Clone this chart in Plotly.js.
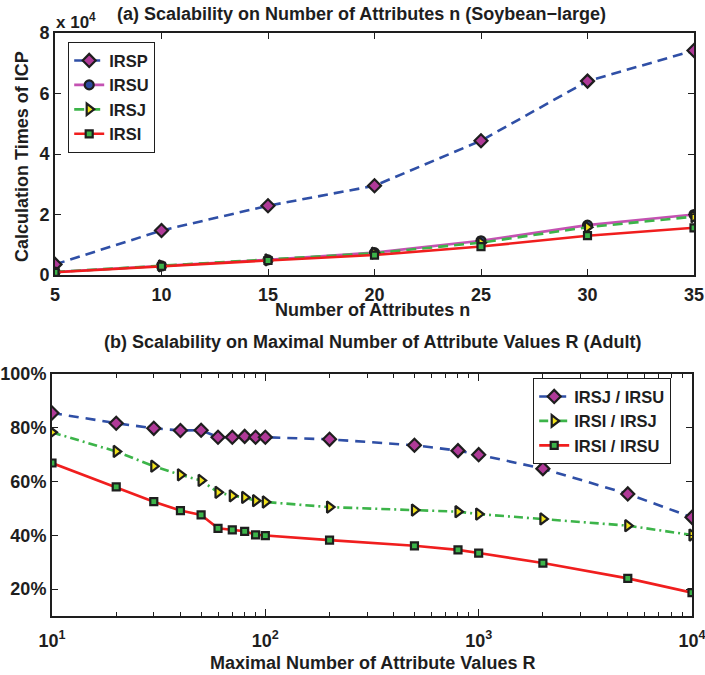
<!DOCTYPE html>
<html>
<head>
<meta charset="utf-8">
<script src="https://cdn.plot.ly/plotly-3.0.1.min.js"></script>
<style>
  html, body { margin: 0; padding: 0; background: #fff; }
  #chart { width: 705px; height: 675px; }
</style>
</head>
<body>
<div id="chart"></div>
<script>
// (a) Soybean-large: calculation times of ICP vs number of attributes n
const attrN = [5, 10, 15, 20, 25, 30, 35];
const irsp = [3500, 14700, 22900, 29500, 44400, 64100, 74200];
const irsu = [1000, 3000, 5000, 7400, 11300, 16500, 20000];
const irsj = [1000, 3000, 5000, 7200, 10700, 15800, 19300];
const irsi = [900, 2900, 4800, 6600, 9400, 13000, 15600];

// (b) Adult: ratios (%) vs maximal number of attribute values R
const valuesR = [10, 20, 30, 40, 50, 60, 70, 80, 90, 100, 200, 500, 800, 1000, 2000, 5000, 10000];
const ratioJU = [85.5, 81.7, 79.8, 79.0, 79.1, 76.5, 76.5, 76.8, 76.5, 76.5, 75.7, 73.5, 71.5, 70.0, 64.8, 55.4, 46.7];
const ratioIJ = [78.3, 71.2, 65.7, 62.5, 60.4, 56.0, 54.7, 54.1, 52.9, 52.4, 50.5, 49.4, 48.8, 47.9, 46.1, 43.6, 40.1];
const ratioIU = [66.9, 58.0, 52.5, 49.2, 47.6, 42.6, 42.0, 41.5, 40.2, 39.9, 38.2, 36.1, 34.6, 33.4, 29.7, 24.0, 18.7];

const topYTicks = [0, 20000, 40000, 60000, 80000];
const topYText = ['0', '2', '4', '6', '8'];
const botXTicks = [10, 100, 1000, 10000];
const botXText = ['10<sup>1</sup>', '10<sup>2</sup>', '10<sup>3</sup>', '10<sup>4</sup>'];
const botXMinor = [20, 30, 40, 50, 60, 70, 80, 90, 200, 300, 400, 500, 600, 700, 800, 900,
                   2000, 3000, 4000, 5000, 6000, 7000, 8000, 9000];
const botYTicks = [20, 40, 60, 80, 100];
const botYText = ['20%', '40%', '60%', '80%', '100%'];

const W = 705, H = 675;
const px = x => x / W;
const py = y => 1 - y / H;

const FONT = 'Liberation Sans, Arial, Helvetica, sans-serif';
const INK = '#1e1e1e';
const BLUE = '#2f4fa6';
const MAGENTA = '#c452b2';
const GREEN = '#3cb449';
const RED = '#f01e1e';

function mk(symbol, fill, size) {
  return { symbol: symbol, size: size, color: fill, line: { color: INK, width: 2.2 } };
}

const traces = [
  { x: attrN, y: irsp, name: 'IRSP', xaxis: 'x', yaxis: 'y', legend: 'legend',
    mode: 'lines+markers', line: { color: BLUE, width: 2.6, dash: '10px,6px' },
    marker: mk('diamond', '#b03a98', 10) },
  { x: attrN, y: irsu, name: 'IRSU', xaxis: 'x', yaxis: 'y', legend: 'legend',
    mode: 'lines+markers', line: { color: MAGENTA, width: 2.6 },
    marker: mk('circle', '#2c4aa0', 9) },
  { x: attrN, y: irsj, name: 'IRSJ', xaxis: 'x', yaxis: 'y', legend: 'legend',
    mode: 'lines+markers', line: { color: GREEN, width: 2.6, dash: '10px,6px' },
    marker: mk('triangle-right', '#f2e31c', 10) },
  { x: attrN, y: irsi, name: 'IRSI', xaxis: 'x', yaxis: 'y', legend: 'legend',
    mode: 'lines+markers', line: { color: RED, width: 2.6 },
    marker: mk('square', GREEN, 7) },

  { x: valuesR, y: ratioJU, name: 'IRSJ / IRSU', xaxis: 'x2', yaxis: 'y2', legend: 'legend2',
    mode: 'lines+markers', line: { color: BLUE, width: 2.6, dash: '10px,7px' },
    marker: mk('diamond', '#b03a98', 10) },
  { x: valuesR, y: ratioIJ, name: 'IRSI / IRSJ', xaxis: 'x2', yaxis: 'y2', legend: 'legend2',
    mode: 'lines+markers', line: { color: GREEN, width: 2.6, dash: '9px,4px,2px,4px' },
    marker: mk('triangle-right', '#f2e31c', 10) },
  { x: valuesR, y: ratioIU, name: 'IRSI / IRSU', xaxis: 'x2', yaxis: 'y2', legend: 'legend2',
    mode: 'lines+markers', line: { color: RED, width: 2.6 },
    marker: mk('square', GREEN, 7) }
];

const tickFont = { family: FONT, size: 18, color: INK, weight: 'bold' };

const axisBase = {
  showline: true, linecolor: INK, linewidth: 2, mirror: 'ticks',
  ticks: 'inside', ticklen: 6, tickwidth: 1, tickcolor: INK,
  showgrid: false, zeroline: false, tickfont: tickFont, fixedrange: true,
  ticklabeloverflow: 'allow'
};

const legendBase = {
  bgcolor: '#ffffff', bordercolor: INK, borderwidth: 1.2,
  font: { family: FONT, size: 16.5, color: INK, weight: 'bold' },
  xanchor: 'left', yanchor: 'top', tracegroupgap: 0
};

const layout = {
  width: W, height: H,
  margin: { l: 0, r: 0, t: 0, b: 0 },
  paper_bgcolor: '#ffffff', plot_bgcolor: '#ffffff',
  font: { family: FONT, size: 18, color: INK, weight: 'bold' },
  showlegend: true,
  xaxis: Object.assign({}, axisBase, {
    domain: [px(55), px(694)], anchor: 'y', range: [5, 35],
    tickmode: 'array', tickvals: attrN, ticklabelstandoff: 2
  }),
  yaxis: Object.assign({}, axisBase, {
    domain: [py(275), py(33)], anchor: 'x', range: [0, 80000],
    tickmode: 'array', tickvals: topYTicks, ticktext: topYText
  }),
  xaxis2: Object.assign({}, axisBase, {
    domain: [px(52), px(692)], anchor: 'y2', type: 'log', range: [1, 4],
    tickmode: 'array', tickvals: botXTicks, ticktext: botXText, ticklen: 7,
    ticklabelstandoff: 7,
    minor: { ticks: 'inside', ticklen: 4, tickwidth: 1, tickcolor: INK,
             tickmode: 'array', tickvals: botXMinor, showgrid: false }
  }),
  yaxis2: Object.assign({}, axisBase, {
    domain: [py(616), py(374)], anchor: 'x2', range: [10, 100],
    tickmode: 'array', tickvals: botYTicks, ticktext: botYText
  }),
  legend: Object.assign({}, legendBase, { x: px(68), y: py(42) }),
  legend2: Object.assign({}, legendBase, { x: px(533), y: py(378) }),
  annotations: [
    { text: '(a) Scalability on Number of Attributes n (Soybean\u2212large)',
      xref: 'paper', yref: 'paper', x: px(361), y: py(14), xanchor: 'center', yanchor: 'middle',
      showarrow: false, font: { family: FONT, size: 18, color: INK, weight: 'bold' } },
    { text: 'x 10<sup>4</sup>',
      xref: 'paper', yref: 'paper', x: px(54), y: py(21), xanchor: 'left', yanchor: 'middle',
      showarrow: false, font: { family: FONT, size: 17, color: INK, weight: 'bold' } },
    { text: 'Calculation Times of ICP',
      xref: 'paper', yref: 'paper', x: px(22), y: py(157), xanchor: 'center', yanchor: 'middle',
      textangle: -90, showarrow: false, font: { family: FONT, size: 18, color: INK, weight: 'bold' } },
    { text: 'Number of Attributes n',
      xref: 'paper', yref: 'paper', x: px(372), y: py(310), xanchor: 'center', yanchor: 'middle',
      showarrow: false, font: { family: FONT, size: 18, color: INK, weight: 'bold' } },
    { text: '(b) Scalability on Maximal Number of Attribute Values R (Adult)',
      xref: 'paper', yref: 'paper', x: px(372), y: py(342), xanchor: 'center', yanchor: 'middle',
      showarrow: false, font: { family: FONT, size: 18, color: INK, weight: 'bold' } },
    { text: 'Maximal Number of Attribute Values R',
      xref: 'paper', yref: 'paper', x: px(372), y: py(663), xanchor: 'center', yanchor: 'middle',
      showarrow: false, font: { family: FONT, size: 18, color: INK, weight: 'bold' } }
  ]
};

Plotly.newPlot('chart', traces, layout, { displayModeBar: false, staticPlot: true });
</script>
</body>
</html>
